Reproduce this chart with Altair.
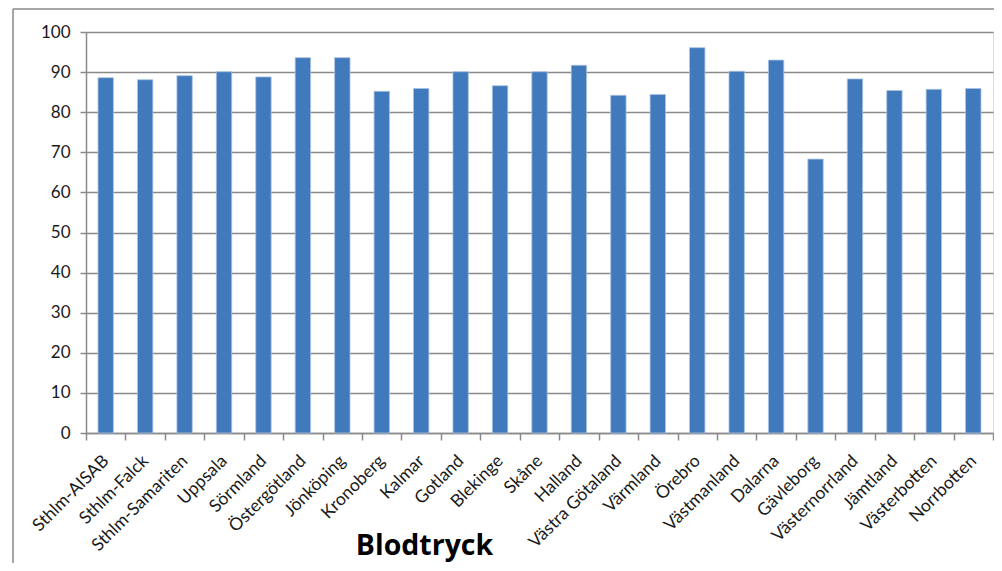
import altair as alt
import pandas as pd

regions = ["Sthlm-AISAB", "Sthlm-Falck", "Sthlm-Samariten", "Uppsala", "Sörmland",
           "Östergötland", "Jönköping", "Kronoberg", "Kalmar", "Gotland", "Blekinge",
           "Skåne", "Halland", "Västra Götaland", "Värmland", "Örebro", "Västmanland",
           "Dalarna", "Gävleborg", "Västernorrland", "Jämtland", "Västerbotten", "Norrbotten"]
values = [88.6, 88.1, 89.1, 90.1, 88.8, 93.6, 93.6, 85.2, 85.9, 90.1, 86.6,
          90.1, 91.7, 84.2, 84.4, 96.1, 90.2, 93.0, 68.3, 88.3, 85.4, 85.7, 85.9]
y_ticks = list(range(0, 101, 10))
axis_title = "Blodtryck"

df = pd.DataFrame({"region": regions, "value": values})

FONT = "Lato"
GRID = "#8A8A8A"

x_enc = alt.X(
    "region:N",
    sort=regions,
    scale=alt.Scale(paddingInner=0, paddingOuter=0),
    axis=alt.Axis(
        title=axis_title,
        titleFont="Open Sans", titleFontSize=28.5, titleFontWeight="bold", titleColor="#000000",
        titleX=338, titleY=121, titleAlign="center", titleBaseline="alphabetic",
        labelAngle=-45, labelAlign="right", labelBaseline="middle", labelOverlap=False,
        labelFont=FONT, labelFontSize=17.5, labelColor="#1a1a1a", labelPadding=18,
        tickBand="extent", tickSize=7, tickColor=GRID, tickWidth=1.5,
        domainColor=GRID, domainWidth=1.5, grid=False,
    ),
)

y_enc = alt.Y(
    "value:Q",
    scale=alt.Scale(domain=[0, 100], nice=False),
    axis=alt.Axis(
        title=None, values=y_ticks,
        labelFont=FONT, labelFontSize=17, labelColor="#1a1a1a", labelPadding=10,
        tickSize=6, tickColor=GRID, tickWidth=1.5,
        domainColor=GRID, domainWidth=1.5,
        grid=True, gridColor=GRID, gridWidth=1.5,
    ),
)

bars = alt.Chart(df).mark_bar(
    width=alt.RelativeBandSize(0.39), color="#4179BD", stroke="#A8C1E2", strokeWidth=0.8
).encode(x=x_enc, y=y_enc)

frame_data = alt.Data(values=[{"k": 0}])
frame_left = alt.Chart(frame_data).mark_rule(color=GRID, strokeWidth=1.5).encode(
    x=alt.value(-73), y=alt.value(-23), y2=alt.value(600)
)
frame_top = alt.Chart(frame_data).mark_rule(color=GRID, strokeWidth=1.5).encode(
    x=alt.value(-73), x2=alt.value(1000), y=alt.value(-23)
)

chart = alt.layer(bars, frame_left, frame_top).properties(
    width=907, height=401,
    autosize=alt.AutoSizeParams(type="none"),
    padding={"left": 78, "top": 24, "right": 1, "bottom": 130},
).configure_view(stroke=None).configure(background="white")

chart.save("out.html", embed_options={"renderer": "svg", "actions": False})
